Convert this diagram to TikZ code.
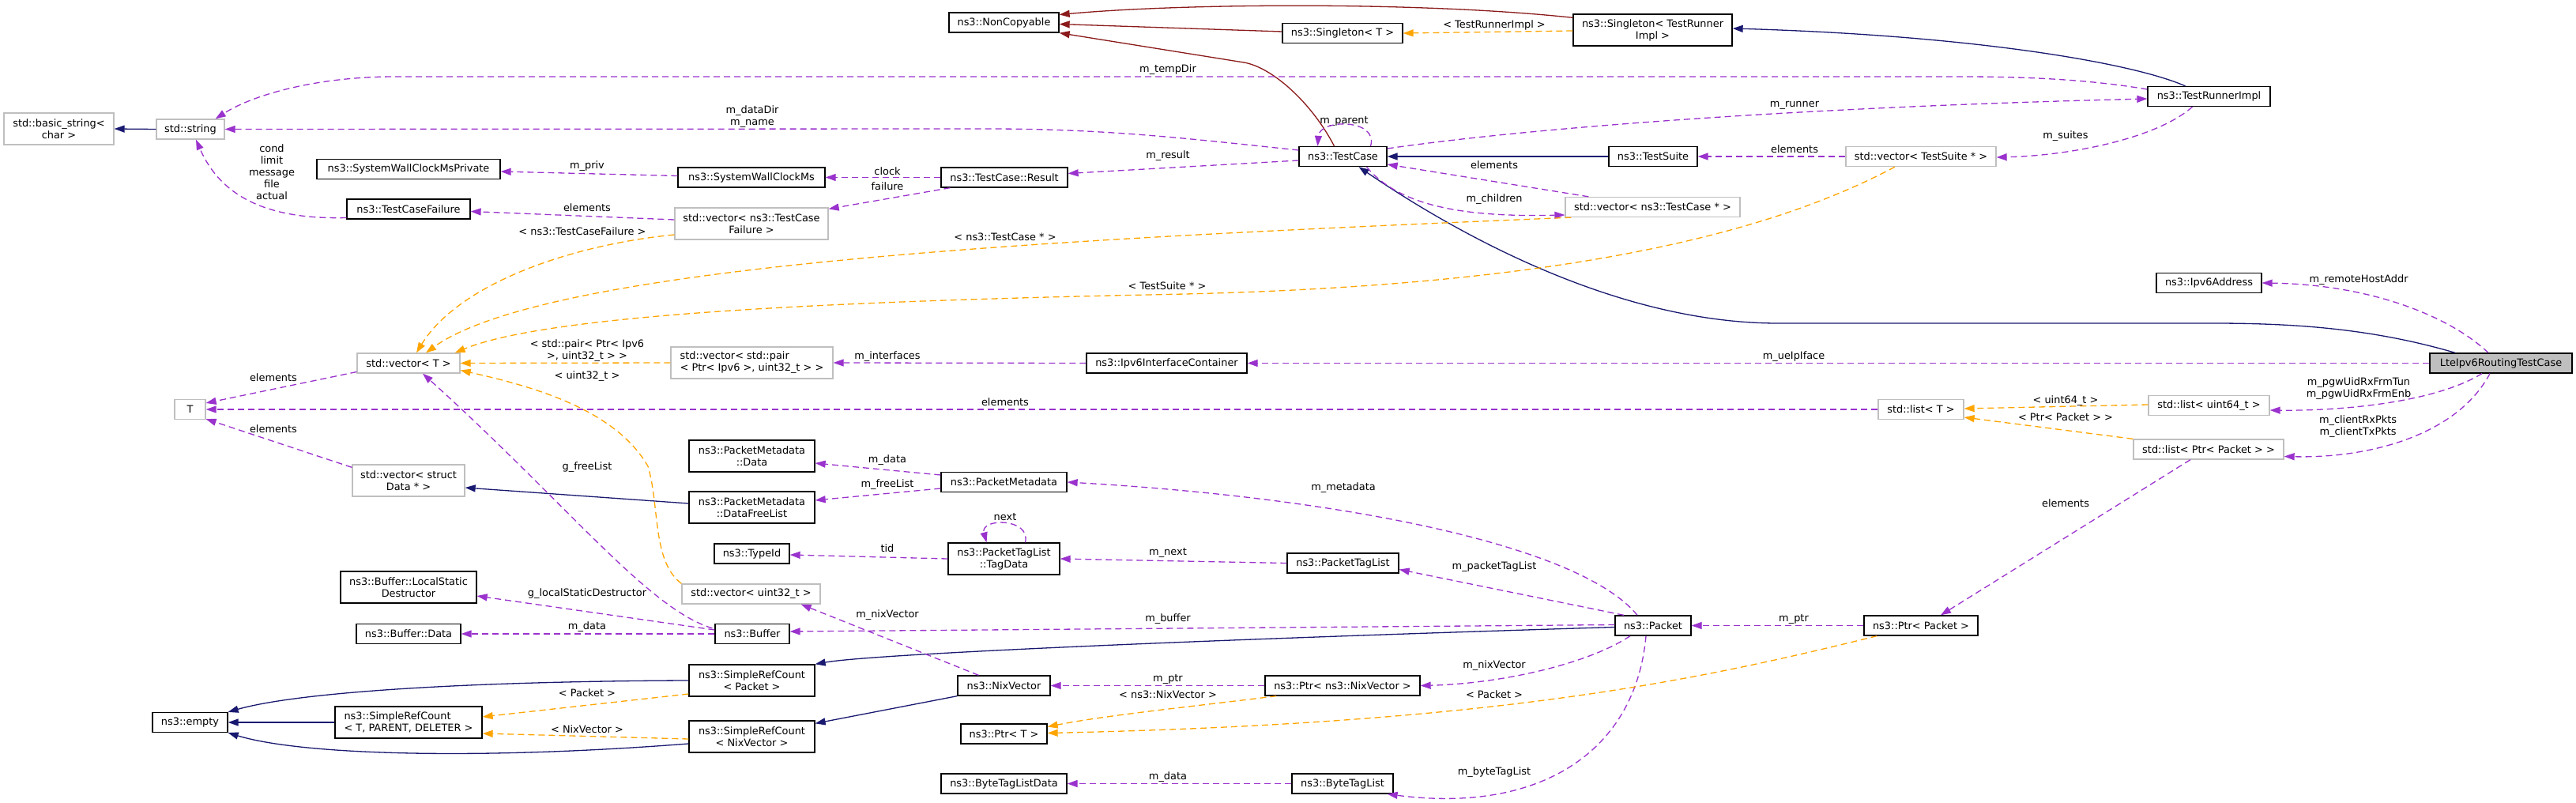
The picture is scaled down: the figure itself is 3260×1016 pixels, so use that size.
\documentclass[tikz,border=0pt]{standalone}
\usepackage{fontspec}
\setmainfont{DejaVu Sans}
\usetikzlibrary{arrows.meta,calc}

\definecolor{usecol}{HTML}{9A32CD}
\definecolor{tplcol}{HTML}{FFA500}
\definecolor{inhcol}{HTML}{191970}
\definecolor{prvcol}{HTML}{8B1A1A}
\definecolor{grey75}{HTML}{BFBFBF}

\newcommand{\dfont}{\fontsize{12.9}{15}\selectfont}

\begin{document}
\begin{tikzpicture}[x=1pt,y=-1pt,
  box/.style={draw=black, line width=1.3pt, fill=white, inner sep=0pt,
    minimum height=25pt, align=center, font=\dfont},
  gbox/.style={box, draw=grey75},
  lbl/.style={inner sep=0pt, align=center, font=\dfont},
  tip/.style={-{Triangle[length=13pt,width=9pt]}},
  mem/.style={tip, draw=usecol, line width=1.3pt, dash pattern=on 8pt off 5pt},
  tpl/.style={tip, draw=tplcol, line width=1.3pt, dash pattern=on 8pt off 5pt},
  inh/.style={tip, draw=inhcol, line width=1.3pt},
  prv/.style={tip, draw=prvcol, line width=1.3pt}]
\useasboundingbox (0,0) rectangle (3260,1016);

%% Classes, column by column (x in px, y downwards)
\node[gbox,minimum width=139,minimum height=40] (bstr) at (74.5,163) {std::basic\_string<\\char >};
\node[gbox,minimum width=86] (str) at (241,163.5) {std::string};
\node[gbox,minimum width=39] (T) at (240.5,518) {T};
\node[box,minimum width=95] (empty) at (240.5,914) {ns3::empty};

\node[box,minimum width=232] (swcmp) at (517,214) {ns3::SystemWallClockMsPrivate};
\node[box,minimum width=156] (tcf) at (517,264.5) {ns3::TestCaseFailure};
\node[gbox,minimum width=130] (vecT) at (517,459.5) {std::vector< T >};
\node[gbox,minimum width=142,minimum height=40] (vecData) at (517,608) {std::vector< struct\\Data * >};
\node[box,minimum width=172,minimum height=40] (lsd) at (517,743) {ns3::Buffer::LocalStatic\\Destructor};
\node[box,minimum width=132] (bufData) at (517,802) {ns3::Buffer::Data};
\node[box,minimum width=186,minimum height=40,align=left] (srcT) at (517,914) {ns3::SimpleRefCount\\< T, PARENT, DELETER >};

\node[box,minimum width=186] (swcm) at (951,224.5) {ns3::SystemWallClockMs};
\node[gbox,minimum width=194,minimum height=40] (vecTCF) at (951,283) {std::vector< ns3::TestCase\\Failure >};
\node[gbox,minimum width=205,minimum height=40,align=left] (vecPair) at (951.5,459) {std::vector< std::pair\\< Ptr< Ipv6 >, uint32\_t > >};
\node[box,minimum width=159,minimum height=40] (pmData) at (951.5,577) {ns3::PacketMetadata\\::Data};
\node[box,minimum width=159,minimum height=40] (pmFree) at (951.5,642) {ns3::PacketMetadata\\::DataFreeList};
\node[box,minimum width=95] (typeId) at (951.5,700.5) {ns3::TypeId};
\node[gbox,minimum width=175] (vecU32) at (950.5,751.5) {std::vector< uint32\_t >};
\node[box,minimum width=94] (buffer) at (952,802) {ns3::Buffer};
\node[box,minimum width=159,minimum height=40] (srcPkt) at (951.5,861) {ns3::SimpleRefCount\\< Packet >};
\node[box,minimum width=159,minimum height=40] (srcNix) at (951.5,932) {ns3::SimpleRefCount\\< NixVector >};

\node[box,minimum width=139] (nonc) at (1270.5,28.5) {ns3::NonCopyable};
\node[box,minimum width=160] (result) at (1271,224.5) {ns3::TestCase::Result};
\node[box,minimum width=159] (pm) at (1270.5,610) {ns3::PacketMetadata};
\node[box,minimum width=141,minimum height=40] (tagData) at (1270.5,707) {ns3::PacketTagList\\::TagData};
\node[box,minimum width=117] (nix) at (1270.5,867.5) {ns3::NixVector};
\node[box,minimum width=109] (ptrT) at (1270.5,928.5) {ns3::Ptr< T >};
\node[box,minimum width=159] (btld) at (1270.5,991.5) {ns3::ByteTagListData};
\node[box,minimum width=203] (ipv6ic) at (1476.5,459.5) {ns3::Ipv6InterfaceContainer};

\node[box,minimum width=152] (singT) at (1699,42) {ns3::Singleton< T >};
\node[box,minimum width=111] (tc) at (1699.5,198) {ns3::TestCase};
\node[box,minimum width=141] (pktTL) at (1699.5,712.5) {ns3::PacketTagList};
\node[box,minimum width=196] (ptrNix) at (1699,867.5) {ns3::Ptr< ns3::NixVector >};
\node[box,minimum width=128] (btl) at (1699,991.5) {ns3::ByteTagList};

\node[box,minimum width=201,minimum height=40] (singTR) at (2091.5,38) {ns3::Singleton< TestRunner\\Impl >};
\node[box,minimum width=112] (tsuite) at (2092,198) {ns3::TestSuite};
\node[gbox,minimum width=221] (vecTC) at (2091.5,262) {std::vector< ns3::TestCase * >};
\node[box,minimum width=96] (pkt) at (2092,791.5) {ns3::Packet};

\node[gbox,minimum width=190] (vecTS) at (2431,198) {std::vector< TestSuite * >};
\node[gbox,minimum width=108] (listT) at (2431,518) {std::list< T >};
\node[box,minimum width=144] (ptrPkt) at (2431,791.5) {ns3::Ptr< Packet >};

\node[box,minimum width=155] (tri) at (2795.5,122) {ns3::TestRunnerImpl};
\node[box,minimum width=133] (ipv6a) at (2795.5,358) {ns3::Ipv6Address};
\node[gbox,minimum width=153] (listU64) at (2795.5,513) {std::list< uint64\_t >};
\node[gbox,minimum width=190] (listPkt) at (2795,568.5) {std::list< Ptr< Packet > >};

\node[box,fill=grey75,minimum width=180] (root) at (3165,459.5) {LteIpv6RoutingTestCase};

%% Edge labels
\node[lbl] (lTempDir) at (1478,88) {m\_tempDir};
\node[lbl] (lDataDir) at (952,147.5) {m\_dataDir\\m\_name};
\node[lbl] (lCond) at (344,217.5) {cond\\limit\\message\\file\\actual};
\node[lbl] (lPriv) at (743,210) {m\_priv};
\node[lbl] (lElemTCF) at (743,263) {elements};
\node[lbl] (lTplTCF) at (737,293) {< ns3::TestCaseFailure >};
\node[lbl] (lClock) at (1123,217) {clock};
\node[lbl] (lFailure) at (1123,236) {failure};
\node[lbl] (lResult) at (1478,197) {m\_result};
\node[lbl] (lTplTC) at (1272,300) {< ns3::TestCase * >};
\node[lbl] (lTplTS) at (1477,362) {< TestSuite * >};
\node[lbl] (lTplPair) at (743,444) {< std::pair< Ptr< Ipv6\\>, uint32\_t > >};
\node[lbl] (lTplU32) at (743,476) {< uint32\_t >};
\node[lbl] (lElemVec) at (346,478) {elements};
\node[lbl] (lElemData) at (346,543) {elements};
\node[lbl] (lFreeList) at (743,591) {g\_freeList};
\node[lbl] (lIfaces) at (1123,451) {m\_interfaces};
\node[lbl] (lElemList) at (1272,509) {elements};
\node[lbl] (lPmData) at (1123,582) {m\_data};
\node[lbl] (lPmFree) at (1123,613) {m\_freeList};
\node[lbl] (lNext) at (1272,654) {next};
\node[lbl] (lLsd) at (743,751) {g\_localStaticDestructor};
\node[lbl] (lBufData) at (743,793) {m\_data};
\node[lbl] (lTplPkt) at (743,877) {< Packet >};
\node[lbl] (lTplNix) at (743,923) {< NixVector >};
\node[lbl] (lTid) at (1123,694) {tid};
\node[lbl] (lNextTL) at (1478,699) {m\_next};
\node[lbl] (lNixVec) at (1123,778) {m\_nixVector};
\node[lbl] (lBuffer) at (1478,783) {m\_buffer};
\node[lbl] (lPtrNix) at (1478,859) {m\_ptr};
\node[lbl] (lTplPtrNix) at (1478,879) {< ns3::NixVector >};
\node[lbl] (lBtlData) at (1478,983) {m\_data};
\node[lbl] (lTplTR) at (1891,32) {< TestRunnerImpl >};
\node[lbl] (lParent) at (1701,153) {m\_parent};
\node[lbl] (lRunner) at (2271,133) {m\_runner};
\node[lbl] (lElemTS) at (2271,189) {elements};
\node[lbl] (lElemTC) at (1891,209) {elements};
\node[lbl] (lChildren) at (1891,252) {m\_children};
\node[lbl] (lSuites) at (2614,172) {m\_suites};
\node[lbl] (lRemote) at (2985,354) {m\_remoteHostAddr};
\node[lbl] (lTplU64) at (2614,507) {< uint64\_t >};
\node[lbl] (lTplPtrPkt) at (2614,528) {< Ptr< Packet > >};
\node[lbl] (lPgw) at (2985,491.5) {m\_pgwUidRxFrmTun\\m\_pgwUidRxFrmEnb};
\node[lbl] (lClient) at (2984,540) {m\_clientRxPkts\\m\_clientTxPkts};
\node[lbl] (lElemPtr) at (2614,637) {elements};
\node[lbl] (lUeIp) at (2270,451) {m\_ueIpIface};
\node[lbl] (lMeta) at (1700,617) {m\_metadata};
\node[lbl] (lPktTL) at (1891,717) {m\_packetTagList};
\node[lbl] (lPtrPkt) at (2270,783) {m\_ptr};
\node[lbl] (lNixPkt) at (1891,842) {m\_nixVector};
\node[lbl] (lTplPkt2) at (1891,879) {< Packet >};
\node[lbl] (lByteTL) at (1891,977) {m\_byteTagList};

%% Inheritance (solid)
\draw[inh] (str.west) -- (bstr.east);
\draw[inh] ($(pmFree.west)+(0,-5)$) -- ($(vecData.east)+(0,9)$);
\draw[inh] (tsuite.west) -- (tc.east);
\draw[inh] ($(root.north)+(-58,0)$) .. controls (3000,415) and (2900,409) .. (2800,409)
  -- (2250,409) .. controls (2050,409) and (1850,300) .. ($(tc.south)+(20,0)$);
\draw[inh] ($(tri.north)+(-30,0)$) .. controls (2700,80) and (2500,45) .. ($(singTR.east)+(0,-2)$);
\draw[inh] ($(pkt.west)+(0,2)$) .. controls (1500,810) and (1100,828) .. (srcPkt.north east);
\draw[inh] (nix.south west) -- ($(srcNix.north east)+(0,4)$);
\draw[inh] (srcPkt.west) .. controls (600,862) and (380,875) .. (empty.north east);
\draw[inh] (srcT.west) -- (empty.east);
\draw[inh] ($(srcNix.west)+(0,9)$) .. controls (600,962) and (380,955) .. (empty.south east);

%% NonCopyable
\draw[prv] ($(singTR.north west)+(0,5)$) .. controls (1800,2) and (1500,4) .. ($(nonc.east)+(0,-10)$);
\draw[prv] ($(singT.west)+(0,-2)$) -- ($(nonc.east)+(0,2)$);
\draw[prv] ($(tc.north)+(-11,0)$) .. controls (1660,130) and (1610,85) .. (1574,79) -- (nonc.south east);

%% Members (dashed purple)
\draw[mem] ($(tri.west)+(0,-9)$) .. controls (2640,100) and (2560,97) .. (2480,97)
  -- (500,97) .. controls (400,97) and (320,120) .. ($(str.north east)+(-12,0)$);
\draw[mem] ($(tc.west)+(0,-8)$) .. controls (1500,175) and (1400,163) .. (1250,163) -- (str.east);
\draw[mem] ($(tc.west)+(0,5)$) -- ($(result.east)+(0,-5)$);
\draw[mem] (result.west) -- (swcm.east);
\draw[mem] ($(result.south west)+(12,0)$) -- ($(vecTCF.north east)+(0,2)$);
\draw[mem] ($(swcm.west)+(0,-2)$) -- ($(swcmp.east)+(0,3)$);
\draw[mem] ($(vecTCF.west)+(0,-5)$) -- ($(tcf.east)+(0,3)$);
\draw[mem] ($(tcf.west)+(0,11)$) .. controls (340,278) and (280,250) .. ($(str.south)+(7,0)$);
\draw[mem] ($(tc.north)+(35,0)$) .. controls (1745,150) and (1670,150) .. ($(tc.north)+(-32,0)$);
\draw[mem] ($(tc.east)+(0,-10)$) .. controls (1950,160) and (2300,135) .. ($(tri.west)+(0,3)$);
\draw[mem] (vecTS.west) -- (tsuite.east);
\draw[mem] ($(tri.south)+(-21,0)$) .. controls (2730,175) and (2620,197) .. ($(vecTS.east)+(0,1)$);
\draw[mem] ($(vecTC.north west)+(30,0)$) -- ($(tc.east)+(0,10)$);
\draw[mem] ($(tc.south)+(30,0)$) .. controls (1770,260) and (1850,275) .. ($(vecTC.west)+(0,10)$);
\draw[mem] (ipv6ic.west) -- (vecPair.east);
\draw[mem] (root.west) -- (ipv6ic.east);
\draw[mem] ($(root.north)+(-16,0)$) .. controls (3100,400) and (3000,360) .. (ipv6a.east);
\draw[mem] ($(root.south)+(-24,0)$) .. controls (3080,510) and (2960,520) .. ($(listU64.east)+(0,6)$);
\draw[mem] ($(root.south)+(-14,0)$) .. controls (3110,550) and (3000,580) .. ($(listPkt.east)+(0,9)$);
\draw[mem] (listT.west) -- (T.east);
\draw[mem] ($(vecT.west)+(0,11)$) -- ($(T.east)+(0,-8)$);
\draw[mem] ($(vecData.north west)+(0,4)$) -- ($(T.south east)+(0,-1)$);
\draw[mem] ($(listPkt.south)+(-23,0)$) -- ($(ptrPkt.north)+(25,0)$);
\draw[mem] (ptrPkt.west) -- (pkt.east);
\draw[mem] ($(pkt.north)+(-20,0)$) .. controls (2000,690) and (1700,630) .. (pm.east);
\draw[mem] ($(pkt.north)+(-37,0)$) -- ($(pktTL.east)+(0,8)$);
\draw[mem] (pktTL.west) -- (tagData.east);
\draw[mem] ($(tagData.north)+(27,0)$) .. controls (1305,655) and (1240,655) .. ($(tagData.north)+(-22,0)$);
\draw[mem] (tagData.west) -- ($(typeId.east)+(0,1.5)$);
\draw[mem] ($(pm.west)+(0,-9)$) -- ($(pmData.east)+(0,9)$);
\draw[mem] ($(pm.west)+(0,8)$) -- ($(pmFree.east)+(0,-9)$);
\draw[mem] ($(pkt.west)+(0,-1)$) -- ($(buffer.east)+(0,-3)$);
\draw[mem] ($(buffer.west)+(0,-5)$) -- ($(lsd.east)+(0,11)$);
\draw[mem] (buffer.west) -- (bufData.east);
\draw[mem] ($(buffer.north west)+(-3,6)$) .. controls (820,770) and (720,640) .. ($(vecT.south)+(18,0)$);
\draw[mem] ($(nix.north)+(-32,0)$) -- ($(vecU32.south east)+(-25,0)$);
\draw[mem] (ptrNix.west) -- (nix.east);
\draw[mem] ($(pkt.south)+(-29,0)$) .. controls (2010,840) and (1900,865) .. (ptrNix.east);
\draw[mem] ($(pkt.south)+(-9,0)$) .. controls (2070,950) and (1950,1030) .. ($(btl.south east)+(-8,0)$);
\draw[mem] (btl.west) -- (btld.east);

%% Template instances (dashed orange)
\draw[tpl] ($(singTR.west)+(0,1)$) -- (singT.east);
\draw[tpl] ($(vecTCF.west)+(0,14)$) .. controls (720,310) and (580,360) .. ($(vecT.north)+(10,0)$);
\draw[tpl] ($(vecTC.south west)+(8,0)$) .. controls (1400,300) and (700,330) .. ($(vecT.north)+(22,0)$);
\draw[tpl] ($(vecTS.south)+(-33,0)$) .. controls (2250,290) and (2000,360) .. (1500,372)
  .. controls (1100,380) and (700,395) .. ($(vecT.north east)+(-7,0)$);
\draw[tpl] (vecPair.west) -- (vecT.east);
\draw[tpl] (vecU32.north west) .. controls (825,710) and (835,640) .. (820,590)
  .. controls (780,520) and (680,490) .. ($(vecT.east)+(0,9)$);
\draw[tpl] ($(listU64.west)+(0,-1)$) -- ($(listT.east)+(0,-1)$);
\draw[tpl] (listPkt.north west) -- ($(listT.east)+(0,10)$);
\draw[tpl] ($(srcPkt.west)+(0,17)$) -- ($(srcT.east)+(0,-7)$);
\draw[tpl] ($(srcNix.west)+(0,3)$) -- ($(srcT.east)+(0,14)$);
\draw[tpl] ($(ptrNix.south west)+(15,0)$) .. controls (1500,895) and (1400,905) .. ($(ptrT.east)+(0,-9)$);
\draw[tpl] ($(ptrPkt.south west)+(17,0)$) .. controls (2150,860) and (1900,915) .. ($(ptrT.east)+(0,-1)$);

\end{tikzpicture}
\end{document}
